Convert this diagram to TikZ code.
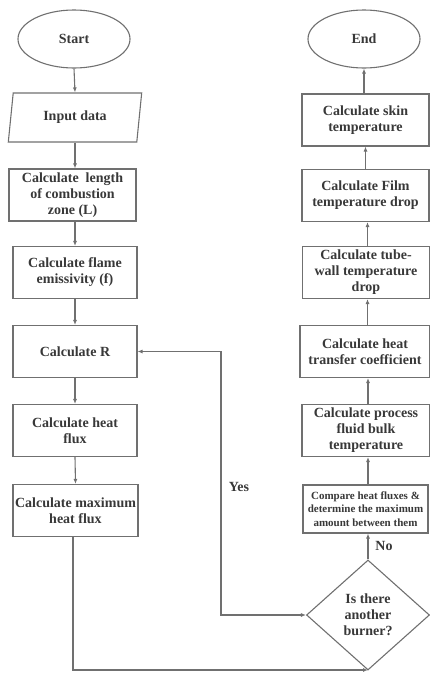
\documentclass[tikz,border=0pt]{standalone}
\usepackage{fontspec}
\setmainfont{Liberation Serif}
\usetikzlibrary{shapes.geometric,arrows.meta}
\definecolor{linec}{HTML}{707070}
\definecolor{textc}{HTML}{383838}
\begin{document}
\begin{tikzpicture}[x=1pt,y=-1pt,
  base/.style={draw=linec, line width=1.1pt, text=textc, align=center,
    font=\fontsize{14}{16}\selectfont\bfseries, inner sep=1pt},
  procbox/.style={base, rectangle, minimum height=52pt},
  lbox/.style={procbox, minimum width=124pt},
  rbox/.style={procbox, minimum width=127pt},
  term/.style={base, ellipse, minimum width=112pt, minimum height=58pt},
  iobox/.style={base, trapezium, trapezium left angle=80, trapezium right angle=100,
    trapezium stretches=true, minimum width=134pt, minimum height=49pt},
  decide/.style={base, diamond, aspect=1.1, inner sep=0pt, minimum width=123pt, minimum height=110pt},
  arr/.style={draw=linec, line width=1.1pt, -{Latex[length=5pt,width=4pt]}},
  darr/.style={draw=linec, line width=1.1pt, {Latex[length=5pt,width=4pt]}-{Latex[length=5pt,width=4pt]}},
  lab/.style={text=textc, font=\fontsize{14}{16}\selectfont\bfseries, inner sep=0pt}
]
\useasboundingbox (0,0) rectangle (430,673);
% left column
\node[term] (start) at (74,39) {Start};
\node[iobox] (input) at (75,117.5) {Input data};
\node[procbox, minimum width=127pt] (len) at (72.5,195) {Calculate\ \ length\\of combustion\\zone (L)};
\node[lbox] (emis) at (75,272.5) {Calculate flame\\emissivity (f)};
\node[lbox] (calcr) at (75,351.5) {Calculate R};
\node[lbox] (flux) at (75,430.5) {Calculate heat\\flux};
\node[procbox, minimum width=125pt] (maxf) at (75.5,510.5) {Calculate maximum\\heat flux};
% right column
\node[term] (stop) at (364,39) {End};
\node[rbox] (skin) at (365.5,120) {Calculate skin\\temperature};
\node[rbox] (film) at (365.5,195.5) {Calculate Film\\temperature drop};
\node[rbox] (tube) at (366,272.5) {Calculate tube-\\wall temperature\\drop};
\node[procbox, minimum width=130pt] (htc) at (365,351.5) {Calculate heat\\transfer coefficient};
\node[rbox, minimum width=128pt] (proc) at (366,430.5) {Calculate process\\fluid bulk\\temperature};
\node[rbox, minimum width=125pt, minimum height=48pt, font=\fontsize{11}{13.5}\selectfont\bfseries] (cmp) at (365.5,509)
  {Compare heat fluxes \&\\determine the maximum\\amount between them};
\node[decide] (dia) at (368,615) {Is there\\another\\burner?};
% connectors
\draw[arr] (start.south) -- (input.north);
\draw[arr] (input.south) -- (input.south |- len.north);
\draw[arr] (len.south -| input.south) -- (input.south |- emis.north);
\draw[arr] (emis.south) -- (calcr.north);
\draw[arr] (calcr.south) -- (flux.north);
\draw[arr] (flux.south) -- (maxf.south |- maxf.north);
\coordinate (bl) at (73,670);
\draw[arr] (maxf.south -| bl) -- (bl) -- (bl -| dia.south);
\coordinate (yc) at (221,615);
\draw[darr] (dia.west) -- (yc) |- (calcr.east);
\draw[arr] (dia.north) -- (dia.north |- cmp.south);
\draw[arr] (cmp.north -| dia.north) -- (dia.north |- proc.south);
\draw[arr] (proc.north -| dia.north) -- (dia.north |- htc.south);
\coordinate (ra) at (367.5,0);
\draw[arr] (htc.north -| ra) -- (ra |- tube.south);
\draw[arr] (tube.north -| ra) -- (ra |- film.south);
\coordinate (rb) at (365.5,0);
\draw[arr] (film.north -| rb) -- (rb |- skin.south);
\draw[arr] (skin.north -| stop.south) -- (stop.south);
% labels
\node[lab] (yes) at (239,487) {Yes};
\node[lab] (no) at (384,546) {No};
\end{tikzpicture}
\end{document}
